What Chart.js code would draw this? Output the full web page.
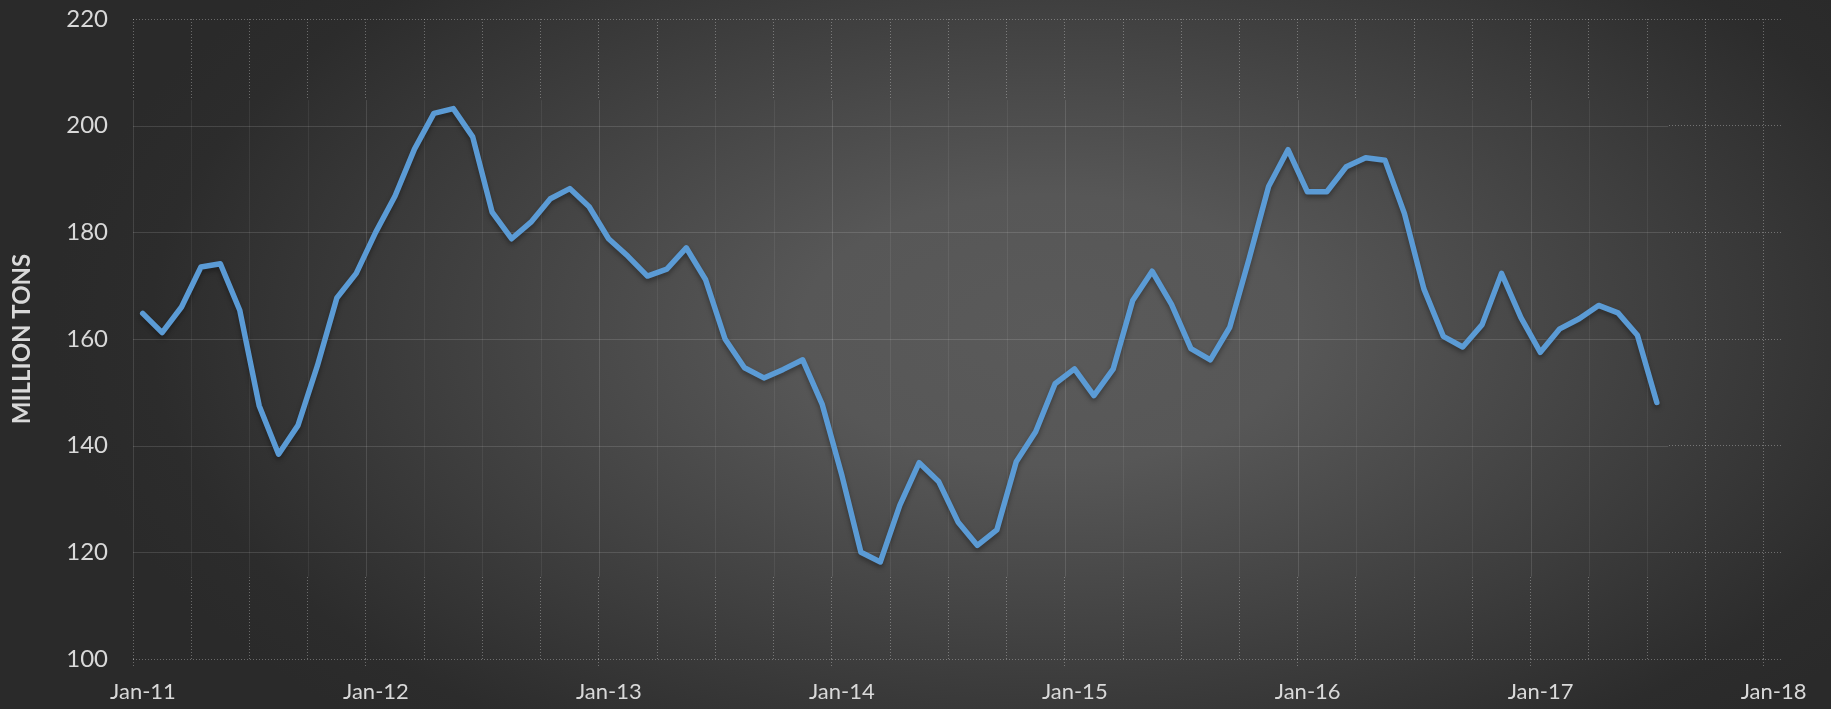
<!DOCTYPE html>
<html>
<head>
<meta charset="utf-8">
<title>Million tons</title>
<script src="https://cdn.jsdelivr.net/npm/chart.js@4.4.1/dist/chart.umd.min.js"></script>
<style>
  html, body { margin: 0; padding: 0; background: #2a2a2a; overflow: hidden; }
  #wrap { width: 1831px; height: 709px; position: relative; }
</style>
</head>
<body>
<div id="wrap"><canvas id="chart"></canvas></div>
<script>
// ========================
// DATA (monthly, Jan-11 .. Jul-17)
// ========================
const yearLabels = ['Jan-11', 'Jan-12', 'Jan-13', 'Jan-14', 'Jan-15', 'Jan-16', 'Jan-17', 'Jan-18'];

const tons2011 = [164.8, 161.2, 166.0, 173.5, 174.1, 165.4, 147.5, 138.4, 143.8, 155.0, 167.7, 172.3];
const tons2012 = [180.0, 186.8, 195.6, 202.3, 203.2, 197.9, 183.8, 178.8, 181.9, 186.3, 188.2, 184.8];
const tons2013 = [178.8, 175.5, 171.8, 173.1, 177.1, 171.1, 160.0, 154.6, 152.7, 154.3, 156.1, 147.8];
const tons2014 = [134.7, 120.0, 118.2, 128.8, 136.8, 133.3, 125.7, 121.3, 124.2, 137.0, 142.6, 151.6];
const tons2015 = [154.4, 149.4, 154.4, 167.2, 172.7, 166.5, 158.2, 156.1, 162.2, 175.1, 188.6, 195.5];
const tons2016 = [187.6, 187.6, 192.3, 194.0, 193.5, 183.5, 169.4, 160.5, 158.5, 162.7, 172.3, 164.0];
const tons2017 = [157.5, 161.9, 163.8, 166.3, 164.9, 160.7, 148.1];

const tons = [].concat(tons2011, tons2012, tons2013, tons2014, tons2015, tons2016, tons2017);

// axis: months since Jan-11, grid every quarter
const X_MIN = 0, X_MAX = 85;
const gridMonths = [];
for (let m = 0; m <= 84; m += 3) gridMonths.push(m);

// ========================
// STYLE
// ========================
const TEXT = '#d9d9d9';
const LINE_BLUE = '#5b9bd5';
const DOT_COLOR = 'rgba(255,255,255,0.30)';
const SOLID_H = 'rgba(255,255,255,0.13)';
const SOLID_YEAR = 'rgba(255,255,255,0.12)';
const SOLID_QTR = 'rgba(255,255,255,0.065)';

// part of the plot where the grid is solid instead of dotted (in axis units)
const SOLID_X_MAX = 79.1, SOLID_Y_TOP = 204.8, SOLID_Y_BOTTOM = 115.4;

// background glow
const BG_CX = 1050, BG_CY = 330, BG_RX = 1000, BG_RY = 540;

Chart.defaults.font.family = 'Lato, "Open Sans", sans-serif';

function paintBackground(ctx, w, h) {
    const k = BG_RY / BG_RX;
    ctx.save();
    ctx.translate(BG_CX, BG_CY);
    ctx.scale(1, k);
    const g = ctx.createRadialGradient(0, 0, 0, 0, 0, BG_RX);
    g.addColorStop(0, '#5a5a5a');
    g.addColorStop(0.25, '#575757');
    g.addColorStop(0.9, '#2c2c2c');
    g.addColorStop(1, '#2a2a2a');
    ctx.fillStyle = g;
    ctx.fillRect(-BG_CX, -BG_CY / k, w, h / k);
    ctx.restore();
}

// ========================
// PLUGINS
// ========================
const backgroundPlugin = {
    id: 'bg',
    beforeDraw(chart) {
        paintBackground(chart.ctx, chart.width, chart.height);
    }
};

// solid grid block drawn over the dotted one
const solidGridPlugin = {
    id: 'solidGrid',
    beforeDatasetsDraw(chart) {
        const { ctx, chartArea } = chart;
        const x = chart.scales.x, y = chart.scales.y;
        const left = chartArea.left;
        const right = x.getPixelForValue(SOLID_X_MAX);
        const top = y.getPixelForValue(SOLID_Y_TOP);
        const bottom = y.getPixelForValue(SOLID_Y_BOTTOM);

        ctx.save();
        ctx.beginPath();
        ctx.rect(left, top, right - left, bottom - top);
        ctx.clip();
        paintBackground(ctx, chart.width, chart.height);

        ctx.lineWidth = 1;
        x.ticks.forEach(t => {
            const px = Math.round(x.getPixelForValue(t.value)) + 0.5;
            ctx.strokeStyle = (t.value % 12 === 0) ? SOLID_YEAR : SOLID_QTR;
            ctx.beginPath();
            ctx.moveTo(px, top);
            ctx.lineTo(px, bottom);
            ctx.stroke();
        });
        ctx.strokeStyle = SOLID_H;
        y.ticks.forEach(t => {
            const py = Math.round(y.getPixelForValue(t.value)) + 0.5;
            ctx.beginPath();
            ctx.moveTo(left, py);
            ctx.lineTo(right, py);
            ctx.stroke();
        });
        ctx.restore();
    }
};

const shadowPlugin = {
    id: 'lineShadow',
    beforeDatasetDraw(chart) {
        const ctx = chart.ctx;
        ctx.save();
        ctx.shadowColor = 'rgba(0,0,0,0.35)';
        ctx.shadowBlur = 5;
        ctx.shadowOffsetY = 3;
    },
    afterDatasetDraw(chart) {
        chart.ctx.restore();
    }
};

// ========================
// CHART
// ========================
new Chart(document.getElementById('chart'), {
    type: 'line',
    data: {
        datasets: [{
            data: tons.map((v, i) => ({ x: i + 0.5, y: v })),   // mid-month
            borderColor: LINE_BLUE,
            borderWidth: 5.5,
            pointRadius: 0,
            tension: 0,
            borderJoinStyle: 'round',
            borderCapStyle: 'round'
        }]
    },
    options: {
        responsive: true,
        maintainAspectRatio: false,
        animation: false,
        events: [],
        layout: { padding: { top: 19, right: 48, bottom: 0, left: 0 } },
        plugins: { legend: { display: false }, tooltip: { enabled: false } },
        scales: {
            x: {
                type: 'linear',
                min: X_MIN,
                max: X_MAX,
                afterBuildTicks: s => { s.ticks = gridMonths.map(v => ({ value: v })); },
                afterFit: s => { s.height = 50; s.paddingLeft = 0; s.paddingRight = 0; },
                grid: {
                    color: DOT_COLOR,
                    drawTicks: true,
                    tickLength: 8,
                    tickBorderDash: [1, 2],
                    tickColor: c => (c.tick && c.tick.value % 12 === 0) ? DOT_COLOR : 'rgba(0,0,0,0)'
                },
                border: { display: false, dash: [1, 2] },
                ticks: {
                    autoSkip: false,
                    maxRotation: 0,
                    color: TEXT,
                    font: { size: 22 },
                    padding: 12,
                    labelOffset: 10,
                    callback: v => (v % 12 === 0) ? yearLabels[v / 12] : ''
                }
            },
            y: {
                min: 100,
                max: 220,
                afterFit: s => { s.width = 133; s.paddingTop = 0; s.paddingBottom = 0; },
                grid: { color: DOT_COLOR, drawTicks: false },
                border: { display: false, dash: [1, 2] },
                ticks: {
                    stepSize: 20,
                    color: TEXT,
                    font: { size: 24 },
                    padding: 25
                },
                title: {
                    display: true,
                    text: 'MILLION TONS',
                    color: TEXT,
                    font: { size: 24, weight: 'bold' },
                    padding: { top: 8, bottom: 0 }
                }
            }
        }
    },
    plugins: [backgroundPlugin, solidGridPlugin, shadowPlugin]
});
</script>
</body>
</html>
